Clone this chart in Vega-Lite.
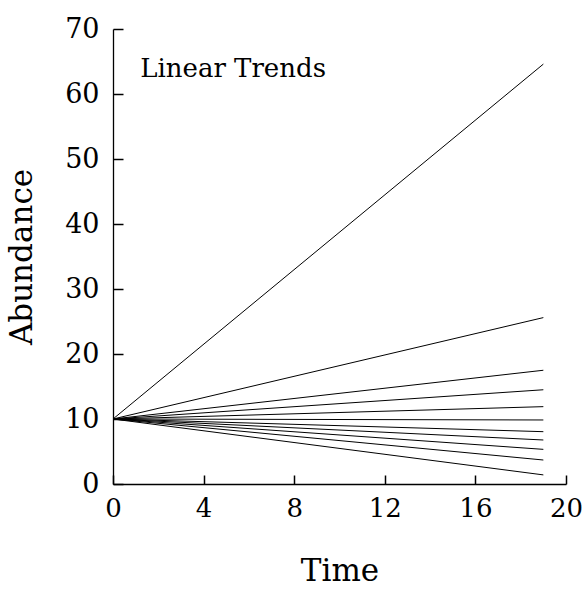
{
  "$schema": "https://vega.github.io/schema/vega-lite/v6.json",
  "autosize": {"type": "none"},
  "padding": {"left": 113, "top": 29, "right": 16, "bottom": 105},
  "width": 453,
  "height": 455,
  "background": "white",
  "config": {
    "view": {"stroke": null},
    "font": "DejaVu Serif",
    "axis": {
      "grid": false,
      "domainColor": "black",
      "domainWidth": 1.3,
      "tickColor": "black",
      "tickWidth": 1.5,
      "labelColor": "black",
      "titleColor": "black",
      "labelFont": "DejaVu Serif",
      "titleFont": "DejaVu Serif",
      "labelFontWeight": "normal",
      "titleFontWeight": "normal"
    }
  },
  "datasets": {
    "lines": [
      {"series": 1, "time": 0, "abundance": 10}, {"series": 1, "time": 19, "abundance": 64.6},
      {"series": 2, "time": 0, "abundance": 10}, {"series": 2, "time": 19, "abundance": 25.6},
      {"series": 3, "time": 0, "abundance": 10}, {"series": 3, "time": 19, "abundance": 17.5},
      {"series": 4, "time": 0, "abundance": 10}, {"series": 4, "time": 19, "abundance": 14.5},
      {"series": 5, "time": 0, "abundance": 10}, {"series": 5, "time": 19, "abundance": 11.9},
      {"series": 6, "time": 0, "abundance": 10}, {"series": 6, "time": 19, "abundance": 9.85},
      {"series": 7, "time": 0, "abundance": 10}, {"series": 7, "time": 19, "abundance": 8.05},
      {"series": 8, "time": 0, "abundance": 10}, {"series": 8, "time": 19, "abundance": 6.77},
      {"series": 9, "time": 0, "abundance": 10}, {"series": 9, "time": 19, "abundance": 5.33},
      {"series": 10, "time": 0, "abundance": 10}, {"series": 10, "time": 19, "abundance": 3.69},
      {"series": 11, "time": 0, "abundance": 10}, {"series": 11, "time": 19, "abundance": 1.4}
    ],
    "note": [{"time": 1.2, "abundance": 62.6, "text": "Linear Trends"}]
  },
  "resolve": {"axis": {"x": "independent", "y": "independent"}},
  "layer": [
    {
      "data": {"name": "lines"},
      "mark": {"type": "line", "color": "black", "strokeWidth": 1},
      "encoding": {
        "x": {
          "field": "time", "type": "quantitative", "title": "Time",
          "scale": {"domain": [0, 20], "nice": false, "zero": false},
          "axis": {
            "values": [0, 4, 8, 12, 16, 20],
            "ticks": false,
            "labelPadding": 11,
            "labelFontSize": 26,
            "titleFontSize": 31,
            "titlePadding": 35,
            "labelFlush": false,
            "labelOverlap": false
          }
        },
        "y": {
          "field": "abundance", "type": "quantitative", "title": "Abundance",
          "scale": {"domain": [0, 70], "nice": false},
          "axis": {
            "values": [0, 10, 20, 30, 40, 50, 60, 70],
            "ticks": false,
            "labelPadding": 14,
            "labelFontSize": 27,
            "titleFontSize": 31,
            "titlePadding": 26,
            "labelFlush": false,
            "labelOverlap": false
          }
        },
        "detail": {"field": "series", "type": "nominal"}
      }
    },
    {
      "data": {"name": "note"},
      "mark": {"type": "text", "align": "left", "baseline": "alphabetic", "fontSize": 26, "color": "black", "font": "DejaVu Serif"},
      "encoding": {
        "x": {
          "field": "time", "type": "quantitative",
          "axis": {"orient": "top", "offset": -455, "values": [0, 4, 8, 12, 16, 20], "domain": false, "labels": false, "title": null, "ticks": true, "tickSize": 9}
        },
        "y": {
          "field": "abundance", "type": "quantitative",
          "axis": {"orient": "right", "offset": -453, "values": [0, 10, 20, 30, 40, 50, 60, 70], "domain": false, "labels": false, "title": null, "ticks": true, "tickSize": 10}
        },
        "text": {"field": "text"}
      }
    }
  ]
}
